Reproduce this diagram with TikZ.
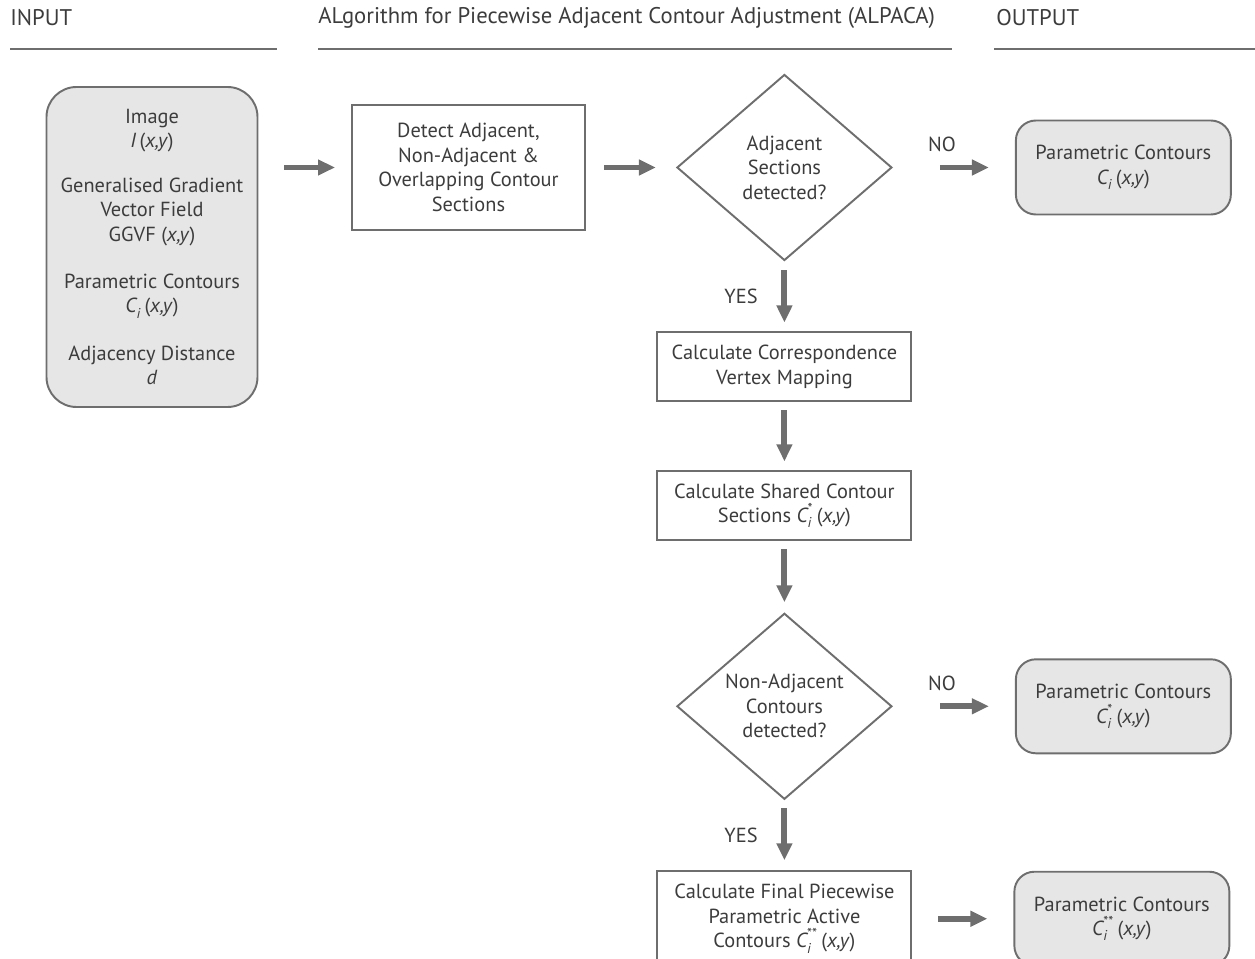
\documentclass[tikz,border=0pt]{standalone}
\usepackage{amsmath}
\usepackage{fontspec}
\setmainfont{PT Sans}
\usetikzlibrary{positioning,shapes.geometric,arrows.meta}

\definecolor{txtgray}{HTML}{3C3C3C}
\definecolor{linegray}{HTML}{6E6E6E}
\definecolor{boxfill}{HTML}{E6E6E6}

\newcommand{\ctr}[1]{$\textit{C}_{\textit{i}}^{\text{#1}}$\,(\textit{x,y})}

\tikzset{
  every node/.style={text=txtgray, font=\fontsize{11.6}{13.9}\selectfont},
  proc/.style={draw=linegray, line width=1.1pt, rectangle, align=center, inner sep=2pt,
    minimum width=5.08cm, minimum height=1.38cm},
  decide/.style={draw=linegray, line width=1.1pt, diamond, align=center, inner sep=0pt,
    minimum width=4.3cm, minimum height=3.72cm},
  term/.style={draw=linegray, fill=boxfill, line width=1.1pt, rounded corners=0.4cm,
    align=center, minimum width=4.3cm, minimum height=1.88cm},
  flow/.style={draw=linegray, line width=3.4pt,
    -{Triangle[length=0.34cm, width=0.3cm]}},
  heading/.style={anchor=west, inner xsep=0pt, font=\fontsize{12.9}{15}\selectfont},
  rule/.style={draw=linegray, line width=1.1pt},
}

\begin{document}
\begin{tikzpicture}
\useasboundingbox (0,0) rectangle (25.1,-19.18);

%% headings
\node[heading](h_in) at (0.2,-0.36){INPUT};
\node[heading](h_alg) at (6.36,-0.36){ALgorithm for Piecewise Adjacent Contour Adjustment (ALPACA)};
\node[heading](h_out) at (19.92,-0.36){OUTPUT};

\draw[rule] (0.2,-0.98) -- (5.54,-0.98);
\draw[rule] (6.36,-0.98) -- (19.04,-0.98);
\draw[rule] (19.88,-0.98) -- (25.1,-0.98);

%% input
\node[term, rounded corners=0.6cm, minimum width=4.22cm, minimum height=6.4cm](inp) at (3.04,-4.94){
Image\\ \textit{I}\,(\textit{x,y})\\[0.4cm]
Generalised Gradient\\ Vector Field\\ GGVF (\textit{x,y})\\[0.46cm]
Parametric Contours\\ \ctr{}\\[0.46cm]
Adjacency Distance\\ \textit{d}
};

%% ALPACA steps
\node[proc, minimum width=4.66cm, minimum height=2.5cm](detect) at (9.37,-3.35){Detect Adjacent,\\ Non-Adjacent \&\\ Overlapping Contour\\ Sections};
\node[decide, right=1.8cm of detect](adj){Adjacent\\ Sections\\ detected?};
\node[proc, below=1.4cm of adj](corr){Calculate Correspondence\\ Vertex Mapping};
\node[proc, below=1.36cm of corr](shared){Calculate Shared Contour\\ Sections \ctr{*}};
\node[decide, below=1.42cm of shared](nonadj){Non-Adjacent\\ Contours\\ detected?};
\node[proc, below=1.4cm of nonadj, minimum height=1.9cm](final){Calculate Final Piecewise\\ Parametric Active\\ Contours \ctr{**}};

%% outputs
\node[term, right=2.44cm of adj](out_a){Parametric Contours\\ \ctr{}};
\node[term, right=2.44cm of nonadj](out_b){Parametric Contours\\ \ctr{*}};
\node[term, right=2.02cm of final](out_c){Parametric Contours\\ \ctr{**}};

%% arrows
\draw[flow, shorten <=0.52cm, shorten >=0.32cm] (inp.east |- detect.west) -- (detect.west);
\draw[flow, shorten <=0.36cm, shorten >=0.4cm] (detect) -- (adj);
\draw[flow, shorten <=0.94cm, shorten >=0.52cm] (adj) -- node[above=0.14cm, xshift=-0.24cm]{NO} (out_a);
\draw[flow, shorten <=0.18cm, shorten >=0.18cm] (adj) -- node[left=0.36cm]{YES} (corr);
\draw[flow, shorten <=0.16cm, shorten >=0.18cm] (corr) -- (shared);
\draw[flow, shorten <=0.16cm, shorten >=0.2cm] (shared) -- (nonadj);
\draw[flow, shorten <=0.94cm, shorten >=0.52cm] (nonadj) -- node[above=0.14cm, xshift=-0.24cm]{NO} (out_b);
\draw[flow, shorten <=0.16cm, shorten >=0.2cm] (nonadj) -- node[left=0.36cm]{YES} (final);
\draw[flow, shorten <=0.52cm, shorten >=0.52cm] (final) -- (out_c);

\end{tikzpicture}
\end{document}
